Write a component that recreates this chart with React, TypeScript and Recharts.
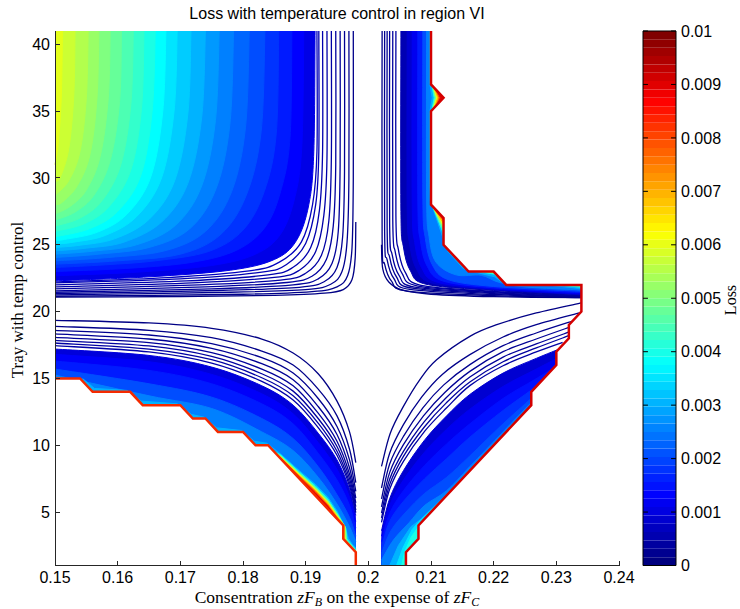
import { ScatterChart, Scatter, XAxis, YAxis, ReferenceArea, ReferenceLine } from 'recharts';

type Pt = [number, number];
type Contour = { level: number; pts: Pt[]; straight?: boolean };
type Px = { x: number; y: number };

const LOSS_MAX = 0.01;
const X_TICKS = [0.15, 0.16, 0.17, 0.18, 0.19, 0.2, 0.21, 0.22, 0.23, 0.24];
const Y_TICKS = [5, 10, 15, 20, 25, 30, 35, 40];
const LOSS_TICKS = [0, 0.001, 0.002, 0.003, 0.004, 0.005, 0.006, 0.007, 0.008, 0.009, 0.01];

// upper-left block: thin contours nearest the saddle
const UL_LINES: Contour[] = [
  { level: 0.00005, pts: [[0.198, 26.7], [0.1979, 24.0], [0.1974, 22.4], [0.196, 21.65], [0.193, 21.38], [0.185, 21.22], [0.17, 21.13], [0.15, 21.08]] },
  { level: 0.0001, pts: [[0.1976, 41], [0.1976, 30], [0.1974, 24.8], [0.1967, 22.7], [0.195, 21.85], [0.191, 21.5], [0.18, 21.3], [0.15, 21.15]] },
  { level: 0.00015, pts: [[0.1969, 41], [0.1969, 30], [0.1966, 25.2], [0.1958, 23.0], [0.194, 22.05], [0.19, 21.65], [0.178, 21.45], [0.15, 21.25]] },
  { level: 0.0002, pts: [[0.1962, 41], [0.1962, 30.5], [0.1959, 25.6], [0.195, 23.3], [0.193, 22.25], [0.189, 21.82], [0.176, 21.58], [0.15, 21.35]] },
  { level: 0.00025, pts: [[0.1955, 41], [0.1955, 31], [0.1952, 26.0], [0.1942, 23.6], [0.192, 22.45], [0.188, 22.0], [0.175, 21.7], [0.15, 21.45]] },
  { level: 0.0003, pts: [[0.1948, 41], [0.1948, 31], [0.1944, 26.4], [0.1933, 23.9], [0.191, 22.65], [0.187, 22.18], [0.174, 21.85], [0.15, 21.55]] },
  { level: 0.00035, pts: [[0.1941, 41], [0.1941, 31.5], [0.1937, 26.8], [0.1925, 24.2], [0.19, 22.87], [0.186, 22.36], [0.173, 22.0], [0.15, 21.7]] },
  { level: 0.0004, pts: [[0.1934, 41], [0.1934, 31.5], [0.1929, 27.2], [0.1916, 24.5], [0.189, 23.1], [0.185, 22.56], [0.172, 22.15], [0.15, 21.85]] },
  { level: 0.00045, pts: [[0.1927, 41], [0.1927, 32], [0.1922, 27.6], [0.1908, 24.8], [0.188, 23.32], [0.184, 22.75], [0.171, 22.3], [0.15, 22.0]] },
  { level: 0.0005, pts: [[0.1921, 41], [0.1921, 32], [0.1916, 28.0], [0.19, 25.1], [0.187, 23.55], [0.183, 22.95], [0.17, 22.45], [0.15, 22.15]] },
  { level: 0.0006, pts: [[0.1918, 41], [0.1918, 32], [0.1911, 28.0], [0.1893, 25.2], [0.1858, 23.7], [0.181, 23.05], [0.168, 22.55], [0.15, 22.22]] },
];

const UL_FILLS: Contour[] = [
  { level: 0.001, pts: [[0.1915, 41], [0.1913, 32], [0.1905, 28], [0.1885, 25.3], [0.185, 23.9], [0.178, 23.1], [0.165, 22.6], [0.15, 22.3]] },
  { level: 0.00125, pts: [[0.1897, 41], [0.1894, 32.5], [0.1883, 28.6], [0.186, 25.8], [0.182, 24.3], [0.175, 23.45], [0.163, 22.95], [0.15, 22.68]] },
  { level: 0.0015, pts: [[0.1878, 41], [0.1875, 33], [0.186, 29], [0.1835, 26.3], [0.179, 24.6], [0.172, 23.7], [0.162, 23.25], [0.15, 23.0]] },
  { level: 0.00175, pts: [[0.1857, 41], [0.1853, 33.3], [0.1834, 29], [0.18, 26.1], [0.1745, 24.5], [0.166, 23.8], [0.158, 23.5], [0.15, 23.3]] },
  { level: 0.002, pts: [[0.1835, 41], [0.1829, 33.5], [0.1806, 28.8], [0.1765, 25.8], [0.17, 24.3], [0.16, 23.8], [0.15, 23.55]] },
  { level: 0.00225, pts: [[0.181, 41], [0.1804, 33.8], [0.1782, 29], [0.174, 26], [0.1675, 24.55], [0.1585, 24.05], [0.15, 23.8]] },
  { level: 0.0025, pts: [[0.1785, 41], [0.1779, 34], [0.1757, 29.2], [0.1715, 26.2], [0.165, 24.8], [0.157, 24.3], [0.15, 24.05]] },
  { level: 0.00275, pts: [[0.1762, 41], [0.1756, 34.3], [0.1734, 29.4], [0.1692, 26.45], [0.163, 25.0], [0.156, 24.52], [0.15, 24.3]] },
  { level: 0.003, pts: [[0.174, 41], [0.1734, 34.5], [0.1712, 29.6], [0.167, 26.7], [0.161, 25.2], [0.155, 24.75], [0.15, 24.55]] },
  { level: 0.00325, pts: [[0.1717, 41], [0.1712, 34.8], [0.1691, 29.8], [0.165, 26.9], [0.1595, 25.45], [0.154, 24.97], [0.15, 24.8]] },
  { level: 0.0035, pts: [[0.1695, 41], [0.169, 35], [0.167, 30], [0.163, 27.1], [0.158, 25.7], [0.153, 25.2], [0.15, 25.05]] },
  { level: 0.00375, pts: [[0.1677, 41], [0.1672, 35], [0.1653, 30.1], [0.1615, 27.3], [0.1568, 25.95], [0.1515, 25.4], [0.15, 25.33]] },
  { level: 0.004, pts: [[0.166, 41], [0.1655, 35], [0.1637, 30.2], [0.16, 27.5], [0.1555, 26.2], [0.15, 25.6]] },
  { level: 0.00425, pts: [[0.1642, 41], [0.1638, 35.2], [0.1621, 30.6], [0.1587, 27.9], [0.1548, 26.6], [0.15, 26.0]] },
  { level: 0.0045, pts: [[0.1625, 41], [0.1621, 35.5], [0.1605, 31], [0.1575, 28.3], [0.154, 27], [0.15, 26.4]] },
  { level: 0.00475, pts: [[0.1606, 41], [0.1603, 35.7], [0.1588, 31.3], [0.1562, 28.7], [0.1532, 27.45], [0.15, 26.85]] },
  { level: 0.005, pts: [[0.1588, 41], [0.1585, 36], [0.1572, 31.6], [0.155, 29.1], [0.1525, 27.9], [0.15, 27.3]] },
  { level: 0.00525, pts: [[0.157, 41], [0.1567, 36], [0.1556, 31.8], [0.1536, 29.45], [0.1512, 28.2], [0.15, 28.0]] },
  { level: 0.0055, pts: [[0.1553, 41], [0.155, 36], [0.154, 32], [0.1522, 29.8], [0.15, 28.7]] },
  { level: 0.00575, pts: [[0.1532, 41], [0.153, 36.2], [0.1522, 32.2], [0.1508, 30.0], [0.15, 29.8]] },
  { level: 0.006, pts: [[0.1512, 41], [0.151, 36], [0.1505, 32.5], [0.15, 31]] },
];

// lower-left block
const LL_LINES: Contour[] = [
  { level: 0.00005, pts: [[0.15, 19.35], [0.165, 19.15], [0.175, 18.75], [0.183, 17.95], [0.188, 16.9], [0.192, 15.35], [0.195, 13.3], [0.197, 11.0], [0.198, 8.7]] },
  { level: 0.0001, pts: [[0.15, 18.9], [0.165, 18.6], [0.175, 18.05], [0.183, 17.05], [0.188, 16.0], [0.192, 14.2], [0.195, 12.2], [0.197, 9.7], [0.198, 7.2]] },
  { level: 0.00015, pts: [[0.15, 18.6], [0.165, 18.25], [0.175, 17.6], [0.183, 16.55], [0.188, 15.4], [0.192, 13.5], [0.195, 11.4], [0.197, 8.9], [0.198, 6.55]] },
  { level: 0.0002, pts: [[0.15, 18.33], [0.165, 17.95], [0.175, 17.25], [0.183, 16.1], [0.188, 14.9], [0.192, 12.9], [0.195, 10.8], [0.197, 8.3], [0.198, 6.05]] },
  { level: 0.00025, pts: [[0.15, 18.07], [0.165, 17.68], [0.175, 16.93], [0.183, 15.7], [0.188, 14.45], [0.192, 12.4], [0.195, 10.3], [0.197, 7.85], [0.198, 5.68]] },
  { level: 0.0003, pts: [[0.15, 17.85], [0.165, 17.43], [0.175, 16.65], [0.183, 15.35], [0.188, 14.05], [0.192, 12.0], [0.195, 9.9], [0.197, 7.5], [0.198, 5.4]] },
  { level: 0.00035, pts: [[0.15, 17.65], [0.165, 17.2], [0.175, 16.4], [0.183, 15.05], [0.188, 13.7], [0.192, 11.65], [0.195, 9.55], [0.197, 7.2], [0.198, 5.15]] },
  { level: 0.0004, pts: [[0.15, 17.45], [0.165, 16.98], [0.175, 16.15], [0.183, 14.78], [0.188, 13.38], [0.192, 11.32], [0.195, 9.25], [0.197, 6.95], [0.198, 4.95]] },
];

const LL_FILLS: Contour[] = [
  { level: 0.0009, pts: [[0.15, 17.2], [0.165, 16.72], [0.175, 15.85], [0.183, 14.45], [0.188, 13.0], [0.192, 10.9], [0.195, 8.9], [0.197, 6.7], [0.198, 4.75]] },
  { level: 0.0012, pts: [[0.15, 16.8], [0.165, 16.25], [0.175, 15.3], [0.183, 13.85], [0.188, 12.35], [0.192, 10.2], [0.195, 8.2], [0.197, 6.1], [0.198, 4.3]] },
  { level: 0.0015, pts: [[0.15, 16.3], [0.165, 15.6], [0.175, 14.6], [0.183, 13.1], [0.188, 11.6], [0.192, 9.4], [0.195, 7.4], [0.197, 5.5], [0.198, 3.8]] },
  { level: 0.002, pts: [[0.15, 15.7], [0.165, 14.6], [0.175, 13.6], [0.183, 12.0], [0.188, 10.5], [0.192, 8.4], [0.195, 6.3], [0.197, 4.6], [0.198, 3.2]] },
  { level: 0.0025, pts: [[0.15, 15.25], [0.165, 13.7], [0.175, 12.75], [0.183, 11.0], [0.188, 9.6], [0.192, 7.6], [0.195, 5.6], [0.197, 3.9], [0.198, 2.8]] },
  { level: 0.003, straight: true, pts: [[0.15, 14.9], [0.1545, 14.95], [0.1563, 14.25], [0.1615, 14.1], [0.1638, 13.3], [0.1695, 13.1], [0.1718, 12.3], [0.1738, 12.1], [0.1758, 11.3], [0.1798, 11.1], [0.1818, 10.3], [0.1838, 10.15], [0.186, 9.35], [0.189, 8.1], [0.1915, 7.1], [0.1935, 6.15], [0.195, 5.1], [0.1965, 3.6], [0.1968, 3.05], [0.1975, 2.55], [0.198, 2.3]] },
  { level: 0.004, straight: true, pts: [[0.183, 10.0], [0.186, 9.28], [0.189, 8.0], [0.1915, 6.97], [0.1935, 6.0], [0.195, 4.95], [0.1964, 3.8], [0.1966, 3.0], [0.1975, 2.45], [0.198, 2.2]] },
  { level: 0.005, straight: true, pts: [[0.183, 10.0], [0.186, 9.2], [0.189, 7.9], [0.1915, 6.85], [0.1935, 5.87], [0.195, 4.85], [0.1963, 3.9], [0.1965, 2.9], [0.1975, 2.37], [0.198, 2.12]] },
  { level: 0.006, straight: true, pts: [[0.183, 10.0], [0.186, 9.14], [0.189, 7.82], [0.1915, 6.75], [0.1935, 5.75], [0.195, 4.75], [0.1962, 3.95], [0.1963, 2.92], [0.1975, 2.31], [0.198, 2.06]] },
  { level: 0.007, straight: true, pts: [[0.184, 10.0], [0.186, 9.08], [0.189, 7.74], [0.1915, 6.65], [0.1935, 5.65], [0.195, 4.66], [0.1961, 4.0], [0.1961, 2.98], [0.1975, 2.25], [0.198, 2.0]] },
  { level: 0.008, straight: true, pts: [[0.1845, 9.75], [0.186, 9.04], [0.189, 7.67], [0.1915, 6.55], [0.1935, 5.55], [0.195, 4.58], [0.1955, 4.1]] },
  { level: 0.009, straight: true, pts: [[0.186, 9.0], [0.189, 7.6], [0.1915, 6.45], [0.1935, 5.45], [0.195, 4.52], [0.1953, 4.3]] },
];

// upper-right block
const UR_LINES: Contour[] = [
  { level: 0.00005, pts: [[0.2021, 25.0], [0.2023, 23.2], [0.2033, 22.2], [0.2055, 21.6], [0.21, 21.3], [0.22, 21.12], [0.234, 21.04]] },
  { level: 0.0001, pts: [[0.2022, 41], [0.2022, 25.5], [0.2026, 23.56], [0.2037, 22.28], [0.2062, 21.54], [0.22, 21.2], [0.234, 21.05]] },
  { level: 0.00015, pts: [[0.2026, 41], [0.2026, 26.0], [0.203, 23.88], [0.2041, 22.46], [0.2066, 21.66], [0.22, 21.28], [0.234, 21.08]] },
  { level: 0.0002, pts: [[0.203, 41], [0.203, 26.3], [0.2034, 24.07], [0.2045, 22.59], [0.207, 21.75], [0.22, 21.35], [0.234, 21.1]] },
  { level: 0.00025, pts: [[0.2034, 41], [0.2034, 26.6], [0.2038, 24.27], [0.2049, 22.72], [0.2074, 21.83], [0.22, 21.42], [0.234, 21.12]] },
  { level: 0.0003, pts: [[0.2039, 41], [0.2039, 26.9], [0.2043, 24.46], [0.2054, 22.84], [0.2079, 21.91], [0.22, 21.48], [0.234, 21.15]] },
  { level: 0.00035, pts: [[0.2044, 41], [0.2044, 27.2], [0.2048, 24.64], [0.2059, 22.94], [0.2084, 21.97], [0.22, 21.52], [0.234, 21.17]] },
];

const UR_FILLS: Contour[] = [
  { level: 0.0005, pts: [[0.2052, 41], [0.2052, 27.5], [0.2056, 24.84], [0.2067, 23.06], [0.2092, 22.05], [0.22, 21.58], [0.234, 21.2]] },
  { level: 0.0008, pts: [[0.2062, 41], [0.2062, 27.8], [0.2066, 25.03], [0.2077, 23.18], [0.2102, 22.13], [0.22, 21.64], [0.234, 21.27]] },
  { level: 0.0011, pts: [[0.207, 41], [0.207, 28.0], [0.2074, 25.17], [0.2085, 23.28], [0.211, 22.2], [0.22, 21.7], [0.234, 21.33]] },
  { level: 0.0015, pts: [[0.2079, 41], [0.2079, 28.2], [0.2083, 25.31], [0.2094, 23.39], [0.2119, 22.29], [0.22, 21.78], [0.234, 21.42]] },
  { level: 0.002, pts: [[0.2087, 41], [0.2087, 28.4], [0.2091, 25.47], [0.2102, 23.51], [0.2127, 22.4], [0.22, 21.88], [0.234, 21.52]] },
  { level: 0.0025, pts: [[0.2093, 41], [0.2093, 28.5], [0.2097, 25.6], [0.2108, 23.7], [0.214, 22.75], [0.218, 22.72], [0.2208, 22.2], [0.225, 21.85], [0.234, 21.62]] },
  { level: 0.003, straight: true, pts: [[0.2098, 41], [0.2098, 37.1], [0.2102, 36], [0.2098, 34.9], [0.2098, 29.5], [0.2099, 28.3], [0.212, 25.4], [0.2127, 24.5], [0.2152, 23.2], [0.218, 22.85], [0.2202, 22.6], [0.2218, 22.05], [0.229, 21.97], [0.234, 21.72]] },
  { level: 0.004, straight: true, pts: [[0.2101, 41], [0.2101, 37.05], [0.2105, 36], [0.2101, 34.95], [0.2101, 29.5], [0.21, 28.2], [0.212, 25.8], [0.2128, 24.6], [0.2154, 23.25], [0.2185, 22.93], [0.2201, 22.8], [0.2221, 21.99], [0.2305, 21.99], [0.234, 21.82]] },
  { level: 0.005, straight: true, pts: [[0.2102, 41], [0.2102, 37], [0.2107, 36], [0.2102, 35], [0.2102, 29.5], [0.21, 28.15], [0.212, 26.1], [0.2129, 24.8], [0.2156, 23.35], [0.219, 22.96], [0.2201, 22.88], [0.2221, 22.0], [0.232, 22.0], [0.234, 21.9]] },
  { level: 0.006, straight: true, pts: [[0.2103, 41], [0.2103, 36.95], [0.2109, 36], [0.2103, 35.05], [0.2103, 29.5], [0.21, 28.1], [0.212, 26.4], [0.213, 25.0], [0.2158, 23.45], [0.2195, 22.98], [0.2201, 22.94], [0.2221, 22.0], [0.233, 22.0], [0.234, 21.96]] },
  { level: 0.007, straight: true, pts: [[0.2104, 41], [0.2104, 36.9], [0.2111, 36], [0.2104, 35.1], [0.2104, 29.5], [0.21, 28.07], [0.212, 26.6], [0.2131, 25.2], [0.216, 23.55], [0.2198, 23.0], [0.2203, 22.97], [0.2222, 22.0], [0.234, 21.99]] },
  { level: 0.008, straight: true, pts: [[0.2106, 41], [0.2106, 36.8], [0.2113, 36], [0.2106, 35.2], [0.2106, 29.5], [0.21, 28.05], [0.212, 26.8], [0.2132, 25.4], [0.2162, 23.65], [0.22, 23.01], [0.2223, 22.01], [0.234, 22.0]] },
  { level: 0.009, straight: true, pts: [[0.2108, 41], [0.2108, 36.7], [0.2115, 36], [0.2108, 35.3], [0.2108, 29.5], [0.21, 28.02], [0.212, 26.95], [0.2133, 25.6], [0.2165, 23.75], [0.22, 23.02], [0.2224, 22.02], [0.234, 22.0]] },
];

// lower-right block
const LR_LINES: Contour[] = [
  { level: 0.00005, pts: [[0.2021, 8.42], [0.2035, 10.9], [0.2056, 12.91], [0.2082, 14.9], [0.2109, 16.4], [0.2162, 18.15], [0.2205, 19.02], [0.2268, 19.9], [0.234, 20.65]] },
  { level: 0.0001, pts: [[0.2021, 6.8], [0.2034, 9.4], [0.2056, 11.54], [0.2085, 13.6], [0.2118, 15.3], [0.2162, 16.78], [0.2215, 18.1], [0.2268, 19.02], [0.2337, 19.9]] },
  { level: 0.00015, pts: [[0.2021, 5.98], [0.2034, 8.6], [0.2056, 10.66], [0.2087, 12.8], [0.212, 14.5], [0.2162, 16.03], [0.2215, 17.45], [0.2268, 18.4], [0.233, 19.35]] },
  { level: 0.0002, pts: [[0.2021, 5.38], [0.2034, 7.95], [0.2056, 10.04], [0.2088, 12.2], [0.2122, 13.95], [0.2162, 15.53], [0.2215, 17.0], [0.2268, 17.95], [0.2325, 18.9]] },
  { level: 0.00025, pts: [[0.2021, 4.93], [0.2034, 7.45], [0.2056, 9.54], [0.2089, 11.75], [0.2123, 13.5], [0.2162, 15.1], [0.2215, 16.6], [0.2268, 17.58], [0.2322, 18.5]] },
  { level: 0.0003, pts: [[0.2021, 4.56], [0.2034, 7.05], [0.2056, 9.17], [0.209, 11.4], [0.2124, 13.15], [0.2162, 14.73], [0.2215, 16.25], [0.2268, 17.28], [0.232, 18.2]] },
  { level: 0.00035, pts: [[0.2021, 4.23], [0.2034, 6.7], [0.2056, 8.79], [0.209, 11.05], [0.2125, 12.8], [0.2162, 14.46], [0.2215, 15.95], [0.2268, 16.98], [0.231, 17.7]] },
];

const LR_FILLS: Contour[] = [
  { level: 0.0008, pts: [[0.2021, 3.6], [0.2034, 6.0], [0.2056, 8.1], [0.209, 10.4], [0.2125, 12.2], [0.2162, 13.8], [0.2215, 15.4], [0.2268, 16.5], [0.231, 17.3]] },
  { level: 0.0011, pts: [[0.2021, 3.2], [0.2034, 5.5], [0.2056, 7.4], [0.209, 9.5], [0.2125, 11.2], [0.2162, 12.7], [0.2215, 14.4], [0.2268, 15.7], [0.2305, 16.6]] },
  { level: 0.0014, pts: [[0.2021, 2.8], [0.2034, 4.9], [0.2056, 6.6], [0.209, 8.5], [0.2125, 10.1], [0.2162, 11.6], [0.2215, 13.5], [0.2265, 14.9], [0.23, 15.9]] },
  { level: 0.0017, pts: [[0.2021, 2.4], [0.2034, 4.3], [0.2056, 5.8], [0.209, 7.5], [0.2125, 9.0], [0.2162, 10.6], [0.2215, 12.6], [0.2262, 14.2], [0.23, 15.6]] },
  { level: 0.002, pts: [[0.2021, 1.9], [0.2036, 3.6], [0.206, 5.0], [0.209, 6.4], [0.2125, 7.6], [0.2162, 9.2], [0.2215, 11.6], [0.2262, 13.6], [0.23, 15.3]] },
  { level: 0.0025, pts: [[0.2021, 1.4], [0.204, 2.9], [0.2065, 4.2], [0.209, 5.5], [0.2125, 6.6], [0.2162, 8.4], [0.2215, 11.0], [0.2262, 13.3], [0.23, 15.1]] },
  { level: 0.003, straight: true, pts: [[0.2034, 1.0], [0.2048, 2.5], [0.2068, 3.9], [0.2088, 4.6], [0.2125, 6.35], [0.2162, 8.2], [0.2215, 10.85], [0.2262, 13.15], [0.23, 15.0]] },
  { level: 0.0035, straight: true, pts: [[0.2045, 1.0], [0.2055, 2.3], [0.207, 3.7], [0.2085, 4.5], [0.2125, 6.3], [0.2162, 8.15]] },
  { level: 0.004, straight: true, pts: [[0.2053, 1.0], [0.2058, 2.0], [0.2068, 3.1], [0.208, 3.9], [0.209, 4.3]] },
];

// edges of the region where the loss is defined
const LEFT_EDGE: Pt[] = [[0.15, 15], [0.154, 15], [0.156, 14], [0.162, 14], [0.164, 13], [0.17, 13], [0.172, 12], [0.174, 12], [0.176, 11], [0.18, 11], [0.182, 10], [0.184, 10], [0.194, 5], [0.196, 4], [0.196, 3], [0.198, 2], [0.198, 1]];
const RIGHT_EDGE: Pt[] = [[0.21, 41], [0.21, 37], [0.212, 36], [0.21, 35], [0.21, 28], [0.212, 27], [0.212, 25], [0.214, 24], [0.216, 23], [0.22, 23], [0.222, 22], [0.234, 22], [0.234, 20], [0.232, 19], [0.232, 18], [0.23, 17], [0.23, 16], [0.226, 14], [0.226, 13], [0.208, 4], [0.208, 3], [0.206, 2], [0.206, 1]];

const SANS = 'Liberation Sans, Arial, Helvetica, sans-serif';
const SERIF = 'Liberation Serif, Times New Roman, serif';

function jet(t: number) {
  const c = (v: number) => Math.round(255 * Math.max(0, Math.min(1, v)));
  const r = c(1.5 - Math.abs(4 * t - 3));
  const g = c(1.5 - Math.abs(4 * t - 2));
  const b = c(1.5 - Math.abs(4 * t - 1));
  return `rgb(${r},${g},${b})`;
}
const colorOf = (level: number) => jet(level / LOSS_MAX);

const noDot = () => <g />;
const asData = (pts: Pt[]) => pts.map(([x, y]) => ({ x, y }));

// Catmull-Rom through the pixel points, or a plain polyline
function trace(p: Px[], straight: boolean) {
  if (straight || p.length < 3) return p.map((q, i) => `${i ? 'L' : 'M'}${q.x},${q.y}`).join('');
  let d = `M${p[0].x},${p[0].y}`;
  for (let i = 0; i < p.length - 1; i++) {
    const a = p[Math.max(0, i - 1)];
    const b = p[i];
    const c = p[i + 1];
    const e = p[Math.min(p.length - 1, i + 2)];
    d += `C${b.x + (c.x - a.x) / 6},${b.y + (c.y - a.y) / 6} ${c.x - (e.x - b.x) / 6},${c.y - (e.y - b.y) / 6} ${c.x},${c.y}`;
  }
  return d;
}

function band(c: Contour, tail: Pt[], key: string) {
  const n = c.pts.length;
  const color = colorOf(c.level);
  return (
    <Scatter
      key={key}
      data={asData([...c.pts, ...tail])}
      shape={noDot}
      isAnimationActive={false}
      line={(props: any) => {
        const p: Px[] = props.points;
        const edge = trace(p.slice(0, n), !!c.straight);
        const close = p.slice(n).map((q) => `L${q.x},${q.y}`).join('') + 'Z';
        return (
          <g>
            <path d={edge + close} fill={color} stroke="none" />
            <path d={edge} fill="none" stroke={color} strokeWidth={1} />
          </g>
        );
      }}
    />
  );
}

function contourLine(c: Contour, key: string) {
  const color = colorOf(c.level);
  return (
    <Scatter
      key={key}
      data={asData(c.pts)}
      shape={noDot}
      isAnimationActive={false}
      line={(props: any) => <path d={trace(props.points, false)} fill="none" stroke={color} strokeWidth={1.3} />}
    />
  );
}

function polygon(pts: Pt[], fill: string, key: string) {
  return (
    <Scatter
      key={key}
      data={asData(pts)}
      shape={noDot}
      isAnimationActive={false}
      line={(props: any) => <path d={trace(props.points, true) + 'Z'} fill={fill} stroke="none" />}
    />
  );
}

function polyline(pts: Pt[], stroke: string, width: number, key: string) {
  return (
    <Scatter
      key={key}
      data={asData(pts)}
      shape={noDot}
      isAnimationActive={false}
      line={(props: any) => (
        <path d={trace(props.points, true)} fill="none" stroke={stroke} strokeWidth={width} strokeLinejoin="miter" />
      )}
    />
  );
}

const first = (c: Contour) => c.pts[0];
const last = (c: Contour) => c.pts[c.pts.length - 1];

function ContourPlot() {
  return (
    <ScatterChart width={740} height={609} margin={{ top: 31, right: 121, bottom: 13.5, left: 0 }}>
      <XAxis
        type="number"
        dataKey="x"
        domain={[0.15, 0.24]}
        ticks={X_TICKS}
        interval={0}
        tickFormatter={(v: number) => String(v)}
        axisLine={false}
        tickLine={false}
        tickSize={0}
        tickMargin={6}
        height={30}
        tick={{ fill: '#000', fontSize: 16, fontFamily: SANS }}
      />
      <YAxis
        type="number"
        dataKey="y"
        domain={[1, 41]}
        ticks={Y_TICKS}
        interval={0}
        axisLine={false}
        tickLine={false}
        tickSize={0}
        tickMargin={5}
        width={55}
        tick={{ fill: '#000', fontSize: 16, fontFamily: SANS }}
      />

      {UL_FILLS.map((c, i) => band(c, [[0.15, 41]], `ulf${i}`))}
      {UL_LINES.map((c, i) => contourLine(c, `ull${i}`))}

      {LL_FILLS.map((c, i) => band(c, [[last(c)[0], 1], [first(c)[0], 1]], `llf${i}`))}
      {LL_LINES.map((c, i) => contourLine(c, `lll${i}`))}

      {UR_FILLS.map((c, i) => band(c, [[0.24, last(c)[1]], [0.24, 41]], `urf${i}`))}
      {UR_LINES.map((c, i) => contourLine(c, `url${i}`))}

      {LR_FILLS.map((c, i) => band(c, [[0.24, last(c)[1]], [0.24, 1], [first(c)[0], 1]], `lrf${i}`))}
      {LR_LINES.map((c, i) => contourLine(c, `lrl${i}`))}

      {polygon([...LEFT_EDGE, [0.15, 1]], '#fff', 'maskL')}
      {polygon([...RIGHT_EDGE, [0.24, 1], [0.24, 41]], '#fff', 'maskR')}
      {polyline(LEFT_EDGE, '#f42a00', 2.5, 'edgeL')}
      {polyline(RIGHT_EDGE, '#d40000', 2.5, 'edgeR')}

      {/* axes with inward ticks */}
      <Scatter
        data={asData([[0.15, 41], [0.15, 1], [0.24, 1]])}
        shape={noDot}
        isAnimationActive={false}
        line={(props: any) => (
          <path d={trace(props.points, true)} fill="none" stroke="#262626" strokeWidth={1} shapeRendering="crispEdges" />
        )}
      />
      <Scatter
        data={X_TICKS.map((x) => ({ x, y: 1 }))}
        shape={noDot}
        isAnimationActive={false}
        line={(props: any) => (
          <g>
            {props.points.map((q: Px, i: number) => (
              <line key={i} x1={q.x} x2={q.x} y1={q.y} y2={q.y - 5} stroke="#262626" shapeRendering="crispEdges" />
            ))}
          </g>
        )}
      />
      <Scatter
        data={Y_TICKS.map((y) => ({ x: 0.15, y }))}
        shape={noDot}
        isAnimationActive={false}
        line={(props: any) => (
          <g>
            {props.points.map((q: Px, i: number) => (
              <line key={i} x1={q.x} x2={q.x + 5} y1={q.y} y2={q.y} stroke="#262626" shapeRendering="crispEdges" />
            ))}
          </g>
        )}
      />
    </ScatterChart>
  );
}

const COLORBAR_STEPS = Array.from({ length: 64 }, (_, i) => i);

function Colorbar() {
  return (
    <ScatterChart width={740} height={609} margin={{ top: 31, right: 0, bottom: 43.5, left: 643 }}>
      <XAxis type="number" dataKey="x" domain={[0, 1]} hide />
      <YAxis
        type="number"
        dataKey="y"
        orientation="right"
        domain={[0, LOSS_MAX]}
        ticks={LOSS_TICKS}
        interval={0}
        tickFormatter={(v: number) => String(v)}
        axisLine={false}
        tickLine={false}
        tickSize={0}
        tickMargin={5}
        width={64}
        tick={{ fill: '#000', fontSize: 16, fontFamily: SANS }}
      />
      <Scatter data={[{ x: 0, y: 0 }, { x: 1, y: LOSS_MAX }]} shape={noDot} isAnimationActive={false} />
      {COLORBAR_STEPS.map((i) => (
        <ReferenceArea
          key={`cb${i}`}
          x1={0}
          x2={1}
          y1={(LOSS_MAX * i) / 64}
          y2={(LOSS_MAX * (i + 1)) / 64}
          fill={jet(i / 63)}
          fillOpacity={1}
          stroke="none"
        />
      ))}
      <ReferenceArea x1={0} x2={1} y1={0} y2={LOSS_MAX} fill="none" stroke="#000" strokeWidth={1} />
      {LOSS_TICKS.map((v) => (
        <ReferenceLine key={`tl${v}`} segment={[{ x: 0, y: v }, { x: 0.15, y: v }]} stroke="#000" />
      ))}
      {LOSS_TICKS.map((v) => (
        <ReferenceLine key={`tr${v}`} segment={[{ x: 0.85, y: v }, { x: 1, y: v }]} stroke="#000" />
      ))}
    </ScatterChart>
  );
}

const subStyle = { fontSize: 12, fontStyle: 'italic', position: 'relative' as const, top: 3, lineHeight: '12px' };

export default function App() {
  return (
    <div style={{ position: 'absolute', left: 0, top: 0, width: 740, height: 609, background: '#fff', overflow: 'hidden' }}>
      <div style={{ position: 'absolute', left: 0, top: 0 }}>
        <ContourPlot />
      </div>
      <div style={{ position: 'absolute', left: 0, top: 0 }}>
        <Colorbar />
      </div>
      <div
        style={{
          position: 'absolute', left: 0, top: 4, width: 674, textAlign: 'center',
          fontFamily: SANS, fontSize: 16, lineHeight: '20px', color: '#000',
        }}
      >
        Loss with temperature control in region VI
      </div>
      <div
        style={{
          position: 'absolute', left: 0, top: 589, width: 674, height: 16, textAlign: 'center',
          fontFamily: SERIF, fontSize: 17.5, lineHeight: '16px', color: '#000', whiteSpace: 'nowrap',
        }}
      >
        Consentration <i>zF</i><span style={subStyle}>B</span> on the expense of <i>zF</i><span style={subStyle}>C</span>
      </div>
      <div
        style={{
          position: 'absolute', left: 18 - 110, top: 300 - 10, width: 220, height: 20, textAlign: 'center',
          fontFamily: SERIF, fontSize: 17, lineHeight: '20px', color: '#000', whiteSpace: 'nowrap',
          transform: 'rotate(-90deg)',
        }}
      >
        Tray with temp control
      </div>
      <div
        style={{
          position: 'absolute', left: 731 - 30, top: 300 - 7, width: 60, height: 14, textAlign: 'center',
          fontFamily: SERIF, fontSize: 16, lineHeight: '14px', color: '#000', whiteSpace: 'nowrap',
          transform: 'rotate(-90deg)',
        }}
      >
        Loss
      </div>
    </div>
  );
}
